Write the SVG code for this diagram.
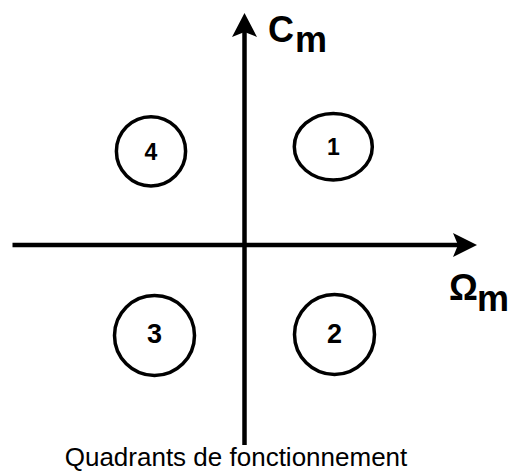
<svg xmlns="http://www.w3.org/2000/svg" width="516" height="472" viewBox="0 0 516 472">
<style>
.ax{stroke:#000;stroke-width:4.5;fill:none}
.ah{fill:#000;stroke:none}
.q{fill:none;stroke:#000;stroke-width:3.5}
.n{font-family:"Liberation Sans",Arial,sans-serif;font-weight:bold;fill:#000;text-anchor:middle}
.lab{font-family:"Liberation Sans",Arial,sans-serif;font-weight:bold;font-size:36px;fill:#000}
.t{font-family:"Liberation Sans",Arial,sans-serif;font-size:26px;fill:#000;text-anchor:middle}
</style>
<rect width="516" height="472" fill="#fff"/>
<g id="connectors">
<line class="ax" x1="244.5" y1="445" x2="244.5" y2="30"/>
<path class="ah" d="M244.5,13 L257,37 L244.5,32 L232,37 Z"/>
<line class="ax" x1="12.5" y1="245" x2="462" y2="245"/>
<path class="ah" d="M477,245 L453,257 L458,245 L453,233 Z"/>
</g>
<g id="axis-cm"><text class="lab" x="268" y="42">C</text><text class="lab" x="295" y="52">m</text></g>
<g id="axis-om"><text class="lab" x="449" y="300">Ω</text><text class="lab" x="477" y="311">m</text></g>
<g id="q1"><ellipse class="q" cx="333.3" cy="146.7" rx="39" ry="33.3"/><text class="n" x="333.3" y="155" font-size="23">1</text></g>
<g id="q4"><circle class="q" cx="151" cy="151.3" r="34.6"/><text class="n" x="151" y="159.5" font-size="23">4</text></g>
<g id="q3"><circle class="q" cx="154.5" cy="335.5" r="40"/><text class="n" x="154.5" y="343" font-size="27">3</text></g>
<g id="q2"><circle class="q" cx="334.5" cy="334.5" r="40"/><text class="n" x="334.5" y="343" font-size="27">2</text></g>
<g id="title"><text class="t" x="236" y="466">Quadrants de fonctionnement</text></g>
</svg>
